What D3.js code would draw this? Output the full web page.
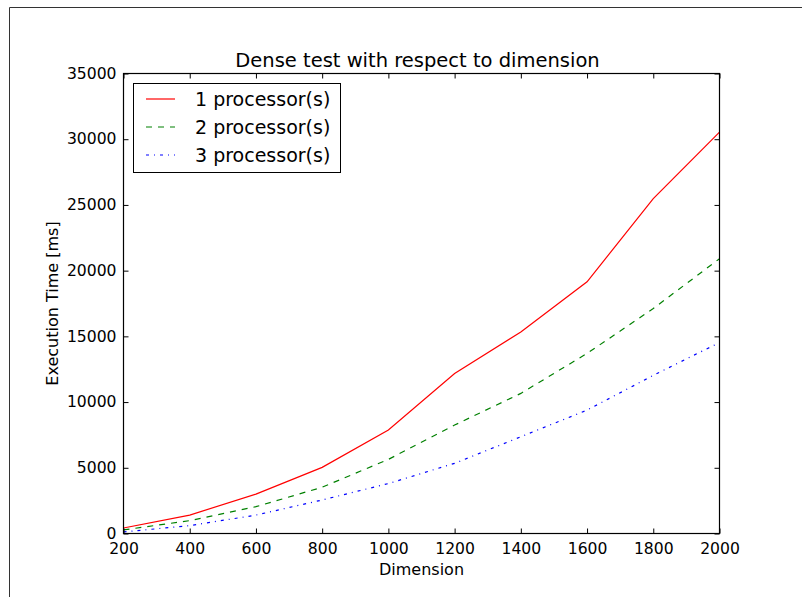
<!DOCTYPE html>
<html>
<head>
<meta charset="utf-8">
<script src="https://cdn.jsdelivr.net/npm/d3@7"></script>
<style>
  html, body { margin: 0; padding: 0; background: #fff; }
  svg { display: block; font-family: "DejaVu Sans", sans-serif; }
</style>
</head>
<body>
<svg id="chart" width="802" height="597"></svg>
<script>
// Problem dimension (x) and execution time in ms per processor count
const dimensions = [200, 400, 600, 800, 1000, 1200, 1400, 1600, 1800, 2000];
const proc1 = [420, 1400, 3000, 5030, 7870, 12170, 15330, 19150, 25480, 30540];
const proc2 = [270, 980, 2040, 3520, 5640, 8250, 10660, 13700, 17120, 20910];
const proc3 = [120, 600, 1400, 2550, 3800, 5340, 7360, 9390, 12030, 14530];
const seriesNames = ["1 processor(s)", "2 processor(s)", "3 processor(s)"];
const xTicks = [200, 400, 600, 800, 1000, 1200, 1400, 1600, 1800, 2000];
const yTicks = [0, 5000, 10000, 15000, 20000, 25000, 30000, 35000];

const series = [
  { name: seriesNames[0], values: proc1, color: "#ff0000", dash: null },
  { name: seriesNames[1], values: proc2, color: "#008000", dash: "6,6" },
  { name: seriesNames[2], values: proc3, color: "#0000ff", dash: "3,5,1,5" }
];

const svg = d3.select("#chart");

// figure frame
svg.append("path")
  .attr("d", "M9.5,597 L9.5,7.5 L802,7.5")
  .attr("fill", "none").attr("stroke", "#333").attr("stroke-width", 1);

const L = 123.5, R = 719.5, T = 73.5, B = 533.5;
const x = d3.scaleLinear().domain([200, 2000]).range([L, R]);
const y = d3.scaleLinear().domain([0, 35000]).range([B, T]);

const plot = svg.append("g");

// data lines
const line = d3.line().x((d, i) => x(dimensions[i])).y(d => y(d));
series.forEach(s => {
  plot.append("path")
    .datum(s.values)
    .attr("d", line)
    .attr("fill", "none")
    .attr("stroke", s.color)
    .attr("stroke-width", 1.2)
    .attr("stroke-dasharray", s.dash);
});

// axes with inward ticks on all four sides
const tickLen = 5;
const fontTicks = "15.6px";
const fmt = d3.format("d");
const axB = svg.append("g").attr("transform", `translate(0,${B})`)
  .call(d3.axisBottom(x).tickValues(xTicks).tickFormat(fmt).tickSizeInner(-tickLen).tickSizeOuter(0).tickPadding(9));
const axT = svg.append("g").attr("transform", `translate(0,${T})`)
  .call(d3.axisTop(x).tickValues(xTicks).tickSizeInner(-tickLen).tickSizeOuter(0).tickFormat(""));
const axL = svg.append("g").attr("transform", `translate(${L},0)`)
  .call(d3.axisLeft(y).tickValues(yTicks).tickFormat(fmt).tickSizeInner(-tickLen).tickSizeOuter(0).tickPadding(7));
const axR = svg.append("g").attr("transform", `translate(${R},0)`)
  .call(d3.axisRight(y).tickValues(yTicks).tickSizeInner(-tickLen).tickSizeOuter(0).tickFormat(""));

[axB, axT, axL, axR].forEach(a => {
  a.select(".domain").remove();
  a.selectAll("line").attr("stroke", "#000").attr("stroke-width", 1);
  a.selectAll("text").attr("fill", "#000").style("font-size", fontTicks)
    .style("font-family", "DejaVu Sans, sans-serif");
});
axB.selectAll("text").attr("dy", "0.71em");
axL.selectAll("text").attr("dy", "0.3em");

// plot box
svg.append("rect")
  .attr("x", L).attr("y", T).attr("width", R - L).attr("height", B - T)
  .attr("fill", "none").attr("stroke", "#000").attr("stroke-width", 1.2);

// title and axis labels
svg.append("text")
  .attr("x", (L + R) / 2 - 4).attr("y", 67)
  .attr("text-anchor", "middle").style("font-size", "19.5px")
  .text("Dense test with respect to dimension");
svg.append("text")
  .attr("x", (L + R) / 2).attr("y", 575)
  .attr("text-anchor", "middle").style("font-size", "16px")
  .text("Dimension");
svg.append("text")
  .attr("transform", `translate(58,${(T + B) / 2}) rotate(-90)`)
  .attr("text-anchor", "middle").style("font-size", "16px")
  .text("Execution Time [ms]");

// legend
const lg = svg.append("g");
lg.append("rect")
  .attr("x", 133.5).attr("y", 83.5).attr("width", 207).attr("height", 89)
  .attr("fill", "#fff").attr("stroke", "#000").attr("stroke-width", 1);
series.forEach((s, i) => {
  const yy = 99 + i * 28;
  lg.append("line")
    .attr("x1", 146).attr("x2", 175).attr("y1", yy).attr("y2", yy)
    .attr("stroke", s.color).attr("stroke-width", 1.2)
    .attr("stroke-dasharray", s.dash);
  lg.append("text")
    .attr("x", 195).attr("y", yy).attr("dy", "0.35em")
    .style("font-size", "19px")
    .text(s.name);
});
</script>
</body>
</html>
